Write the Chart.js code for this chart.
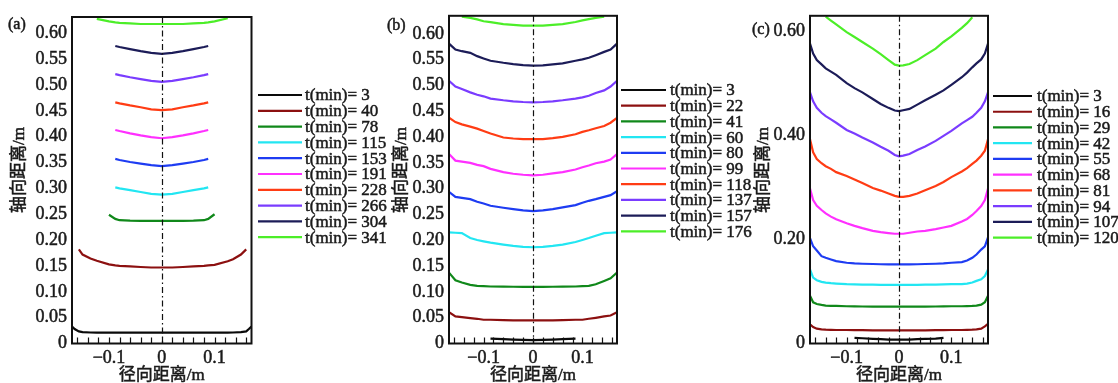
<!DOCTYPE html>
<html><head><meta charset="utf-8">
<script src="https://cdn.jsdelivr.net/npm/chart.js@4.4.0/dist/chart.umd.min.js"></script>
<style>
html,body{margin:0;padding:0;background:#fff;}
#wrap{position:relative;width:1118px;height:383px;overflow:hidden;background:#fff;}
canvas{position:absolute;left:0;top:0;}
</style></head><body>
<div id="wrap">
<canvas id="ca" width="1118" height="383"></canvas>
<canvas id="cb" width="1118" height="383"></canvas>
<canvas id="cc" width="1118" height="383"></canvas>
</div>
<script>
const _ = null;
const colors = ['#0a0a0a','#8c1010','#10881a','#22e6f2','#1e3cf2','#ff30ff','#ff3c14','#7a3cff','#1c1c58','#4cee28'];

// tick values
const yTicksAB = [0,0.05,0.10,0.15,0.20,0.25,0.30,0.35,0.40,0.45,0.50,0.55,0.60];
const yTicksC = [0,0.20,0.40,0.60];
const xTicks = [-0.1,0,0.1];
const xMinorTicks = [-0.16,-0.14,-0.12,-0.10,-0.08,-0.06,-0.04,-0.02,0,0.02,0.04,0.06,0.08,0.10,0.12,0.14,0.16];

// ---- panel (a) ----
const timesA = [3,40,78,115,153,191,228,266,304,341];
const xA = [-0.17,-0.165,-0.157,-0.15,-0.135,-0.123,-0.1,-0.088,-0.08,-0.06,-0.04,-0.02,0,0.02,0.04,0.06,0.08,0.088,0.1,0.125,0.135,0.15,0.16,0.165,0.17];
const yA_t3   = [0.033,0.028,0.0235,0.022,0.0213,0.021,0.021,0.021,0.021,0.021,0.021,0.021,0.021,0.021,0.021,0.021,0.021,0.021,0.021,0.021,0.0213,0.022,0.0235,0.028,0.033];
const yA_t40  = [_,_,0.182,0.172,0.1645,0.160,0.153,0.151,0.150,0.149,0.148,0.147,0.147,0.147,0.148,0.149,0.150,0.151,0.152,0.159,0.163,0.172,0.182,_,_];
const yA_t78  = [_,_,_,_,_,_,0.249,0.241,0.2385,0.2375,0.237,0.237,0.237,0.237,0.237,0.2375,0.2385,0.241,0.250,_,_,_,_,_,_];
const yA_t115 = [_,_,_,_,_,_,_,0.302,0.300,0.2965,0.293,0.2895,0.288,0.2895,0.293,0.2965,0.300,0.302,_,_,_,_,_,_,_];
const yA_t153 = [_,_,_,_,_,_,_,0.357,0.355,0.351,0.348,0.345,0.343,0.345,0.348,0.351,0.355,0.357,_,_,_,_,_,_,_];
const yA_t191 = [_,_,_,_,_,_,_,0.413,0.411,0.4065,0.4025,0.399,0.397,0.399,0.4025,0.4065,0.411,0.413,_,_,_,_,_,_,_];
const yA_t228 = [_,_,_,_,_,_,_,0.4665,0.4645,0.4605,0.457,0.453,0.4515,0.453,0.457,0.4605,0.4645,0.4665,_,_,_,_,_,_,_];
const yA_t266 = [_,_,_,_,_,_,_,0.521,0.519,0.515,0.5115,0.508,0.506,0.508,0.5115,0.515,0.519,0.521,_,_,_,_,_,_,_];
const yA_t304 = [_,_,_,_,_,_,_,0.5755,0.5735,0.5695,0.5655,0.562,0.560,0.562,0.5655,0.5695,0.5735,0.5755,_,_,_,_,_,_,_];
const yA_t341 = [_,_,_,_,_,0.628,0.623,0.621,0.620,0.619,0.618,0.618,0.618,0.618,0.618,0.619,0.620,0.621,0.623,0.629,_,_,_,_,_];
const yA = [yA_t3,yA_t40,yA_t78,yA_t115,yA_t153,yA_t191,yA_t228,yA_t266,yA_t304,yA_t341];

// ---- panel (b) ----
const timesB = [3,22,41,60,80,99,118,137,157,176];
const xB = [-0.17,-0.157,-0.144,-0.127,-0.113,-0.1,-0.086,-0.06,-0.04,-0.02,0,0.02,0.04,0.06,0.086,0.1,0.113,0.127,0.144,0.157,0.17];
const yB_t3   = [_,_,_,_,_,_,0.0096,0.0083,0.0077,0.007,0.0064,0.007,0.0077,0.0083,0.0096,_,_,_,_,_,_];
const yB_t22  = [0.0607,0.0524,0.0511,0.0492,0.0479,0.046,0.046,0.0453,0.045,0.0447,0.0447,0.0447,0.045,0.0453,0.046,0.046,0.0479,0.0498,0.0524,0.0543,0.0607];
const yB_t41  = [0.1373,0.1226,0.1181,0.1137,0.1117,0.1111,0.1105,0.1102,0.110,0.1098,0.1098,0.1098,0.110,0.1102,0.1105,0.1111,0.1117,0.1149,0.1213,0.1264,0.1373];
const yB_t60  = [0.2152,0.2146,0.2139,0.2043,0.2005,0.198,0.1954,0.1916,0.189,0.1871,0.1865,0.1871,0.189,0.1916,0.1967,0.2005,0.2043,0.2088,0.2139,0.2146,0.2152];
const yB_t80  = [0.2937,0.2842,0.2822,0.2797,0.2746,0.2714,0.2669,0.2631,0.2605,0.258,0.2567,0.258,0.2605,0.2637,0.2682,0.2727,0.2765,0.2797,0.2842,0.2874,0.295];
const yB_t99  = [0.3672,0.3544,0.3525,0.350,0.3461,0.3436,0.3384,0.332,0.3289,0.327,0.3257,0.327,0.3295,0.332,0.3372,0.3416,0.3448,0.3493,0.3525,0.3563,0.3672];
const yB_t118 = [0.4374,0.4291,0.4246,0.4202,0.4163,0.4119,0.4068,0.3991,0.3972,0.3959,0.3959,0.3959,0.3978,0.4004,0.4055,0.410,0.4132,0.417,0.4215,0.4278,0.4374];
const yB_t137 = [0.509,0.498,0.493,0.4866,0.482,0.479,0.4745,0.4713,0.4693,0.468,0.4674,0.468,0.4693,0.4713,0.4745,0.477,0.480,0.4853,0.4904,0.498,0.509];
const yB_t157 = [0.581,0.5696,0.5664,0.5632,0.5568,0.5524,0.5479,0.544,0.5415,0.5396,0.5383,0.539,0.541,0.5428,0.5479,0.5505,0.5536,0.5587,0.5651,0.5696,0.581];
const yB_t176 = [_,_,0.6335,0.631,0.628,0.6245,0.6226,0.619,0.6175,0.616,0.616,0.616,0.6175,0.619,0.623,0.626,0.6285,0.631,0.6335,_,_];
const yB = [yB_t3,yB_t22,yB_t41,yB_t60,yB_t80,yB_t99,yB_t118,yB_t137,yB_t157,yB_t176];

// ---- panel (c) ----
const timesC = [3,16,29,42,55,68,81,94,107,120];
const xC = [-0.17,-0.164,-0.157,-0.148,-0.14,-0.13,-0.12,-0.1,-0.085,-0.07,-0.05,-0.035,-0.02,-0.008,0,0.008,0.02,0.035,0.05,0.07,0.085,0.1,0.12,0.13,0.14,0.148,0.157,0.164,0.17];
const yC_t3   = [_,_,_,_,_,_,_,_,0.0108,0.0101,0.0089,0.0083,0.0076,0.0076,0.0076,0.0076,0.0076,0.0083,0.0089,0.0095,0.0108,_,_,_,_,_,_,_,_];
const yC_t16  = [0.0368,0.0317,0.0285,0.0273,0.0266,0.0262,0.026,0.026,0.0257,0.0257,0.0254,0.0254,0.0254,0.0254,0.0254,0.0254,0.0254,0.0254,0.0254,0.0257,0.0257,0.026,0.026,0.0262,0.0266,0.0273,0.0285,0.033,0.038];
const yC_t29  = [0.092,0.0793,0.0761,0.0742,0.0729,0.0725,0.0723,0.0717,0.0714,0.0712,0.071,0.071,0.071,0.071,0.071,0.071,0.071,0.071,0.071,0.0712,0.0714,0.0717,0.0717,0.072,0.0723,0.0729,0.0748,0.0793,0.092];
const yC_t42  = [0.1427,0.1268,0.1218,0.1186,0.1173,0.1161,0.1154,0.1142,0.1138,0.1135,0.1132,0.1129,0.1129,0.1129,0.1129,0.1129,0.1129,0.1129,0.1132,0.1135,0.1138,0.1142,0.1142,0.1154,0.1173,0.1205,0.1237,0.130,0.1427];
const yC_t55  = [0.203,0.1871,0.1789,0.1681,0.1649,0.1617,0.1586,0.1554,0.1541,0.1535,0.153,0.1525,0.1522,0.1522,0.1522,0.1522,0.1522,0.1525,0.153,0.1535,0.1541,0.1554,0.1567,0.1598,0.1649,0.1712,0.1808,0.1871,0.2042];
const yC_t68  = [0.2981,0.2759,0.2651,0.2569,0.2505,0.2442,0.2391,0.2315,0.2264,0.222,0.2169,0.2144,0.2125,0.2112,0.2112,0.2112,0.2131,0.2156,0.2169,0.2201,0.2233,0.2264,0.2347,0.2397,0.2474,0.255,0.2645,0.2759,0.2981];
const yC_t81  = [0.3932,0.3679,0.3552,0.3469,0.3412,0.3361,0.3298,0.3222,0.3158,0.3089,0.2994,0.2943,0.2886,0.2841,0.2822,0.2822,0.2841,0.2886,0.2949,0.3032,0.3108,0.3203,0.3311,0.3374,0.3457,0.352,0.3615,0.371,0.3932];
const yC_t94  = [0.4833,0.4662,0.4535,0.444,0.4376,0.4313,0.4249,0.411,0.404,0.3964,0.3869,0.3786,0.371,0.3628,0.3602,0.3615,0.3647,0.3723,0.3793,0.390,0.3996,0.4091,0.4237,0.430,0.4364,0.444,0.4535,0.4662,0.4833];
const yC_t107 = [0.5772,0.5581,0.5455,0.5372,0.5296,0.5232,0.5169,0.501,0.4915,0.4833,0.4706,0.4611,0.4535,0.4484,0.4471,0.449,0.4516,0.4598,0.4681,0.4789,0.4871,0.4979,0.5125,0.5213,0.5315,0.5391,0.5467,0.5581,0.5772];
const yC_t120 = [_,_,_,_,0.629,0.6215,0.614,0.5994,0.5898,0.5803,0.5676,0.5569,0.5454,0.5366,0.5347,0.5353,0.5378,0.5454,0.555,0.5676,0.5803,0.5911,0.6076,0.6165,0.6279,_,_,_,_];
const yC = [yC_t3,yC_t16,yC_t29,yC_t42,yC_t55,yC_t68,yC_t81,yC_t94,yC_t107,yC_t120];

const SERIF = "'Liberation Serif','Times New Roman',serif";
const MIXED = "'Liberation Serif','Noto Sans CJK SC',sans-serif";
const TXT = '#1a1a1a';

function heavyText(ctx, s, x, y) {
  ctx.lineWidth = 0.5; ctx.strokeStyle = TXT;
  ctx.strokeText(s, x, y); ctx.fillText(s, x, y);
}

const decor = {
  id: 'decor',
  afterDatasetsDraw(chart, args, o) {
    const {ctx, chartArea: ca} = chart;
    const x = chart.scales.x;
    ctx.save();
    // dash-dot centre line
    const x0 = Math.round(x.getPixelForValue(0)) + 0.5;
    ctx.strokeStyle = '#111'; ctx.lineWidth = 1.2;
    ctx.setLineDash([6,3,1.5,3]);
    ctx.beginPath(); ctx.moveTo(x0, ca.top); ctx.lineTo(x0, ca.bottom); ctx.stroke();
    ctx.setLineDash([]);
    // inner minor ticks on bottom axis
    ctx.beginPath();
    xMinorTicks.forEach(v => {
      const px = Math.round(x.getPixelForValue(v)) + 0.5;
      ctx.moveTo(px, ca.bottom); ctx.lineTo(px, ca.bottom - 6);
    });
    ctx.stroke();
    // frame
    ctx.lineWidth = 2; ctx.strokeStyle = '#111';
    ctx.strokeRect(ca.left, ca.top, ca.right - ca.left, ca.bottom - ca.top);
    // legend
    ctx.font = '17px ' + SERIF; ctx.textBaseline = 'middle'; ctx.textAlign = 'left'; ctx.fillStyle = TXT;
    chart.data.datasets.forEach((d, i) => {
      const yy = o.legY + i * o.legStep;
      ctx.strokeStyle = d.borderColor; ctx.lineWidth = 2.2;
      ctx.beginPath(); ctx.moveTo(o.legX1, yy); ctx.lineTo(o.legX2, yy); ctx.stroke();
      heavyText(ctx, d.label, o.legTextX, yy + 1);
    });
    // panel label
    ctx.font = '16px ' + SERIF; heavyText(ctx, o.panel, o.panelX, o.panelY);
    // axis titles
    ctx.font = '17px ' + MIXED; ctx.textAlign = 'center';
    heavyText(ctx, o.xTitle, (ca.left + ca.right) / 2, o.xTitleY);
    ctx.save(); ctx.translate(o.yTitleX, o.yTitleY); ctx.rotate(-Math.PI / 2);
    heavyText(ctx, o.yTitle, 0, 0); ctx.restore();
    ctx.restore();
  }
};

function makeChart(id, xs, times, ys, yTicks, ymax, pad, deco) {
  const datasets = times.map((t, i) => ({
    label: 't(min)= ' + t,
    data: xs.map((xv, j) => ({x: xv, y: ys[i][j]})),
    borderColor: colors[i], borderWidth: 2.2, pointRadius: 0, tension: 0, fill: false, spanGaps: false
  }));
  const tickOpts = {font: {family: SERIF, size: 18}, color: TXT, textStrokeColor: TXT, textStrokeWidth: 0.5, autoSkip: false};
  return new Chart(document.getElementById(id), {
    type: 'line',
    data: {datasets},
    plugins: [decor],
    options: {
      responsive: false, animation: false, devicePixelRatio: 1,
      layout: {padding: pad},
      plugins: {legend: {display: false}, tooltip: {enabled: false}, decor: deco},
      scales: {
        x: {
          type: 'linear', min: -0.17, max: 0.17,
          afterFit: s => { s.height = 30; },
          afterBuildTicks: s => { s.ticks = xTicks.map(v => ({value: v})); },
          grid: {display: false, drawTicks: false}, border: {display: false},
          ticks: Object.assign({}, tickOpts, {padding: 4, maxRotation: 0,
            callback: v => v === 0 ? '0' : (v < 0 ? '\u2212' : '') + Math.abs(v).toFixed(1)})
        },
        y: {
          type: 'linear', min: 0, max: ymax,
          afterFit: s => { s.width = 40; },
          afterBuildTicks: s => { s.ticks = yTicks.map(v => ({value: v})); },
          grid: {display: false, drawTicks: false}, border: {display: false},
          ticks: Object.assign({}, tickOpts, {padding: 5,
            callback: v => v === 0 ? '0' : v.toFixed(2)})
        }
      }
    }
  });
}

const XT = '径向距离/m', YT = '轴向距离/m';
makeChart('ca', xA, timesA, yA, yTicksAB, 0.6315, {left: 32, right: 866.5, top: 17, bottom: 9.5},
  {panel: '(a)', panelX: 8, panelY: 25, legX1: 258, legX2: 302, legTextX: 305, legY: 95, legStep: 15.8,
   xTitle: XT, xTitleY: 376, yTitle: YT, yTitleX: 20, yTitleY: 170});
makeChart('cb', xB, timesB, yB, yTicksAB, 0.635, {left: 409, right: 501, top: 12, bottom: 9.5},
  {panel: '(b)', panelX: 387, panelY: 26, legX1: 621, legX2: 666, legTextX: 670, legY: 90, legStep: 15.7,
   xTitle: XT, xTitleY: 376, yTitle: YT, yTitleX: 402, yTitleY: 170});
makeChart('cc', xC, timesC, yC, yTicksC, 0.6307, {left: 770, right: 130, top: 12, bottom: 9.5},
  {panel: '(c)', panelX: 752, panelY: 30, legX1: 993, legX2: 1032, legTextX: 1037, legY: 96, legStep: 15.73,
   xTitle: XT, xTitleY: 376, yTitle: YT, yTitleX: 764, yTitleY: 170});
</script>
</body></html>
